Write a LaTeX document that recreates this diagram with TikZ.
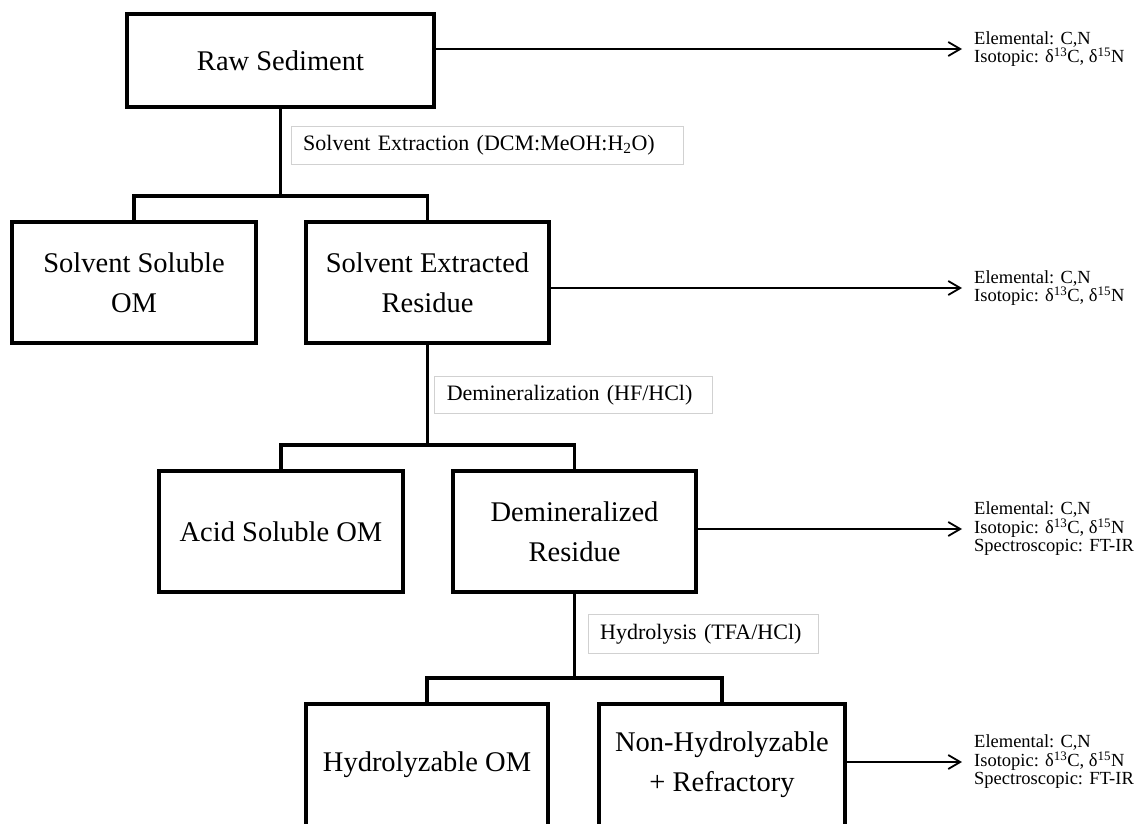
\documentclass[tikz,border=0pt]{standalone}
\usepackage{fontspec}
\setmainfont{Liberation Serif}
\usetikzlibrary{arrows.meta}
\tikzset{
  box/.style={draw=black, line width=3.2pt, fill=white, align=center, inner sep=0pt,
    font=\fontsize{28.5}{40}\selectfont},
  conn/.style={draw=black, line width=3.2pt, line join=miter},
  stage/.style={draw=black!18, line width=1pt, fill=white, anchor=north west, align=left,
    inner xsep=12pt, inner ysep=0pt, font=\fontsize{22}{26}\selectfont},
  outtext/.style={anchor=west, align=left, inner sep=0pt, font=\fontsize{18.5}{18.5}\selectfont},
  arr/.style={draw=black, line width=1.8pt, -{Straight Barb[length=12pt, width=14pt, line width=1.8pt]}}
}
\begin{document}
\begin{tikzpicture}[x=1pt,y=-1pt]
\useasboundingbox (0,0) rectangle (1138,824);
\clip (0,0) rectangle (1138,824);
\fill[white] (0,0) rectangle (1138,824);

% boxes
\node[box, minimum width=307pt, minimum height=93pt] (rs) at (280.5,60.5) {Raw Sediment};
\node[box, minimum width=244pt, minimum height=121pt] (ssom) at (134,282.5) {Solvent Soluble\\OM};
\node[box, minimum width=243pt, minimum height=121pt] (ser) at (427.5,282.5) {Solvent Extracted\\Residue};
\node[box, minimum width=244pt, minimum height=121pt] (asom) at (281,531.5) {Acid Soluble OM};
\node[box, minimum width=243pt, minimum height=121pt] (dr) at (574.5,531.5) {Demineralized\\Residue};
\node[box, minimum width=242pt, minimum height=122pt] (hom) at (427,765) {Hydrolyzable OM};
\node[box, minimum width=246pt, minimum height=122pt] (nh) at (722,765) {Non-Hydrolyzable\\+ Refractory};

% branch coordinates
\coordinate (b1) at (281,196);
\coordinate (b2) at (427.5,445);
\coordinate (b3) at (574.5,678);

% connectors
\draw[conn] (rs.south) -- (rs.south |- b1);
\draw[conn] (ssom.north) -- (ssom.north |- b1) -- (ser.north |- b1) -- (ser.north);
\draw[conn] (ser.south) -- (ser.south |- b2);
\draw[conn] (asom.north) -- (asom.north |- b2) -- (dr.north |- b2) -- (dr.north);
\draw[conn] (dr.south) -- (dr.south |- b3);
\draw[conn] (hom.north) -- (hom.north |- b3) -- (nh.north |- b3) -- (nh.north);

% stage labels
\node[stage, text width=368pt, minimum height=38pt] (l1) at (290.7,126) {Solvent Extraction (DCM:MeOH:H\textsubscript{2}O)};
\node[stage, text width=254pt, minimum height=37.5pt] (l2) at (434.3,375.7) {Demineralization (HF/HCl)};
\node[stage, text width=206pt, minimum height=38.5pt] (l3) at (587.7,614.3) {Hydrolysis (TFA/HCl)};

% outputs
\node[outtext] (t1) at (974,49) {Elemental: C,N\\Isotopic: δ\textsuperscript{13}C, δ\textsuperscript{15}N};
\node[outtext] (t2) at (974,288) {Elemental: C,N\\Isotopic: δ\textsuperscript{13}C, δ\textsuperscript{15}N};
\node[outtext] (t3) at (974,529) {Elemental: C,N\\Isotopic: δ\textsuperscript{13}C, δ\textsuperscript{15}N\\Spectroscopic: FT-IR};
\node[outtext] (t4) at (974,762) {Elemental: C,N\\Isotopic: δ\textsuperscript{13}C, δ\textsuperscript{15}N\\Spectroscopic: FT-IR};

\draw[arr] (rs.east |- t1.west) -- ([xshift=-12pt]t1.west);
\draw[arr] (ser.east |- t2.west) -- ([xshift=-12pt]t2.west);
\draw[arr] (dr.east |- t3.west) -- ([xshift=-12pt]t3.west);
\draw[arr] (nh.east |- t4.west) -- ([xshift=-12pt]t4.west);
\end{tikzpicture}
\end{document}
